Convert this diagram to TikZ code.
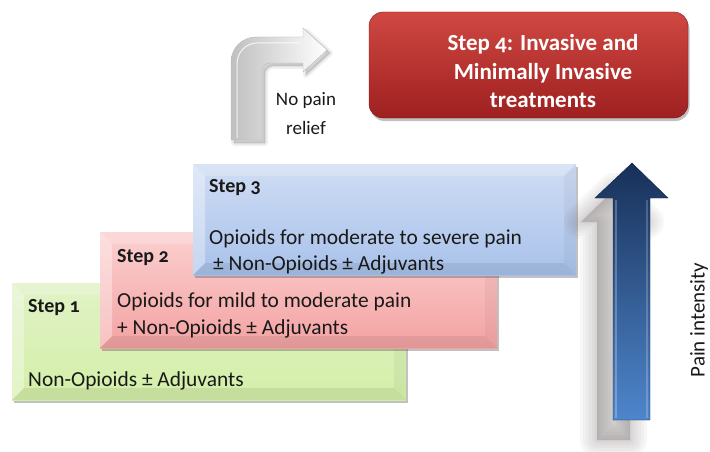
\documentclass[tikz,border=0pt]{standalone}
\usepackage{fontspec}
\setmainfont{Carlito}[Numbers=OldStyle]
\usetikzlibrary{shadows}
\definecolor{gtop}{RGB}{224,242,198}
\definecolor{gbot}{RGB}{212,239,168}
\definecolor{ptop}{RGB}{251,208,208}
\definecolor{pbot}{RGB}{244,162,162}
\definecolor{btop}{RGB}{208,221,244}
\definecolor{bbot}{RGB}{168,193,234}
\definecolor{rtop}{RGB}{208,72,66}
\definecolor{rbot}{RGB}{158,32,32}
\definecolor{atop}{RGB}{24,48,88}
\definecolor{abot}{RGB}{78,134,204}
\definecolor{txt}{RGB}{25,25,25}
\definecolor{shd}{RGB}{90,80,80}
\begin{document}
\begin{tikzpicture}[x=1pt,y=-1pt,
  bevel/.style={path picture={
    \fill[white,opacity=.35] (path picture bounding box.north west) -- (path picture bounding box.south west)
      -- ([xshift=#1,yshift=#1]path picture bounding box.south west) -- ([xshift=#1,yshift=-#1]path picture bounding box.north west) -- cycle;
    \fill[white,opacity=.2] (path picture bounding box.north west) -- (path picture bounding box.north east)
      -- ([xshift=-#1,yshift=-#1]path picture bounding box.north east) -- ([xshift=#1,yshift=-#1]path picture bounding box.north west) -- cycle;
    \fill[black,opacity=.04] (path picture bounding box.north east) -- (path picture bounding box.south east)
      -- ([xshift=-#1,yshift=#1]path picture bounding box.south east) -- ([xshift=-#1,yshift=-#1]path picture bounding box.north east) -- cycle;
    \fill[black,opacity=.07] (path picture bounding box.south west) -- (path picture bounding box.south east)
      -- ([xshift=-#1,yshift=#1]path picture bounding box.south east) -- ([xshift=#1,yshift=#1]path picture bounding box.south west) -- cycle;
  }},
  stepbox/.style={rectangle, inner sep=0pt, bevel=12pt,
    drop shadow={shadow xshift=1.5pt, shadow yshift=-3pt, opacity=.35, fill=black!70}},
  lbl/.style={anchor=base west, inner sep=0pt, text=txt, font=\fontsize{21.4}{27}\selectfont},
  steplbl/.style={anchor=base west, inner sep=0pt, text=txt, font=\fontsize{20}{24}\selectfont\bfseries},
  toplbl/.style={anchor=base, inner sep=0pt, text=white, font=\fontsize{23}{28}\selectfont\bfseries},
  smalllbl/.style={anchor=base, inner sep=0pt, text=txt, font=\fontsize{19}{28}\selectfont}
]
\useasboundingbox (0,0) rectangle (710,452);

% step boxes
\node[stepbox, top color=gtop, bottom color=gbot, minimum width=394pt, minimum height=117pt] (s1) at (209,341.5) {};
\node[stepbox, top color=ptop, bottom color=pbot, minimum width=397pt, minimum height=116pt] (s2) at (298.5,290) {};
\node[stepbox, top color=btop, bottom color=bbot, minimum width=383pt, minimum height=111pt] (s3) at (384.5,219.5) {};

% step 4 box
\node[rectangle, rounded corners=14pt, inner sep=0pt, minimum width=319pt, minimum height=106pt,
  top color=rtop, bottom color=rbot, draw=rbot!80!black, line width=0.4pt,
  drop shadow={shadow xshift=1.5pt, shadow yshift=-3pt, opacity=.35, fill=black!70}] (s4) at (528.5,65) {};

% texts
\node[steplbl] (t1a) at (28,312) {Step 1};
\node[lbl] (t1b) at (28,386) {Non-Opioids ± Adjuvants};
\node[steplbl] (t2a) at (117,262) {Step 2};
\node[lbl] (t2b) at (117,307) {Opioids for mild to moderate pain};
\node[lbl] (t2c) at (117,334) {+ Non-Opioids ± Adjuvants};
\node[steplbl] (t3a) at (209,192) {Step 3};
\node[lbl] (t3b) at (209,244) {Opioids for moderate to severe pain};
\node[lbl] (t3c) at (213,270) {± Non-Opioids ± Adjuvants};
\node[toplbl] (t4a) at (543,51) {Step 4: Invasive and};
\node[toplbl] (t4b) at (543,80) {Minimally Invasive};
\node[toplbl] (t4c) at (543,107) {treatments};
\node[smalllbl] (nr1) at (306,106) {No pain};
\node[smalllbl] (nr2) at (306,134) {relief};
\node[inner sep=0pt, rotate=90, text=txt, font=\fontsize{21}{24}\selectfont] (pi) at (699,320) {Pain intensity};

% white bent arrow (soft shadow, then body)
\foreach \w in {6,3,0.5}{
  \filldraw[black,opacity=.05,line width=\w pt,line join=round]
    (234,143) -- (234,65) to[out=90,in=180] (259,40) -- (306,40) -- (306,31) -- (330,53) -- (306,75) -- (306,66) -- (273,66)
    to[out=180,in=90] (265,74) -- (265,143) -- cycle;
}
\shade[left color=gray!50, right color=white, draw=gray!55, line width=0.4pt]
  (231,140) -- (231,62) to[out=90,in=180] (256,37) -- (303,37) -- (303,28) -- (327,50) -- (303,72) -- (303,63) -- (270,63)
  to[out=180,in=90] (262,71) -- (262,140) -- cycle;
\draw[white,opacity=.8,line width=1pt] (237,138) -- (237,64) to[out=90,in=180] (257,43) -- (300,43);

% blue arrow soft shadow
\foreach \w in {34,28,22,16,10,5,1}{
  \filldraw[shd,opacity=.045,line width=\w pt,line join=round]
    (597,440) -- (597,222) -- (581,222) -- (614,190) -- (647,222) -- (630,222) -- (630,440) -- cycle;
}
% blue arrow
\shade[top color=atop, bottom color=abot, draw=atop!80!black, line width=0.4pt]
  (613,420) -- (613,198) -- (595,198) -- (632,163) -- (668,198) -- (650,198) -- (650,420) -- cycle;
\draw[white,opacity=.25,line width=1.5pt] (616,418) -- (616,200);
\draw[white,opacity=.2,line width=1.5pt] (647,418) -- (647,200);
\end{tikzpicture}
\end{document}
